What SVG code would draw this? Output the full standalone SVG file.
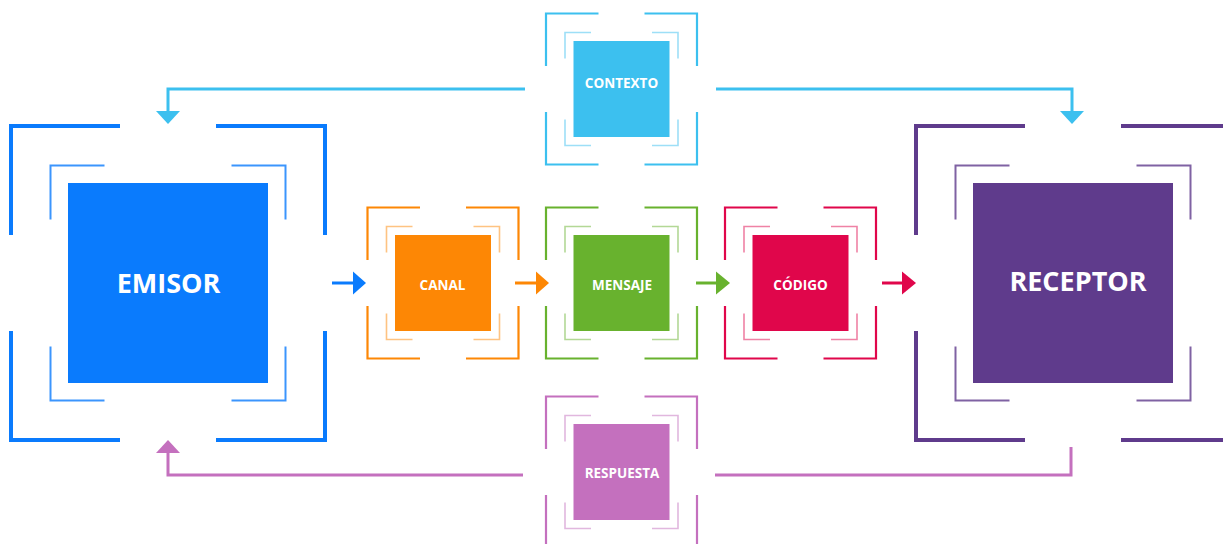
<svg xmlns="http://www.w3.org/2000/svg" width="1223" height="544" viewBox="0 0 1223 544">
<style>
.lbl{font-family:"Open Sans","Liberation Sans",sans-serif;font-weight:700;fill:#ffffff;text-anchor:middle}
.big{font-size:27px}
.small{font-size:13.5px}
.ob{fill:none;stroke-width:4}
.ib{fill:none;stroke-width:2;opacity:0.8}
.os{fill:none;stroke-width:2.2}
.is{fill:none;stroke-width:1.6;opacity:0.5}
.conn{fill:none;stroke-width:3}
</style>
<rect width="1223" height="544" fill="#ffffff"/>
<g id="connectors">
  <g stroke="#3cc0ef" fill="#3cc0ef">
    <path class="conn" d="M525,89 H168 V112"/>
    <polygon points="156,111 180,111 168,124" stroke="none"/>
    <path class="conn" d="M716,89 H1072 V112"/>
    <polygon points="1060,111 1084,111 1072,124" stroke="none"/>
  </g>
  <g stroke="#c470be" fill="#c470be">
    <path class="conn" d="M523,475 H168 V452"/>
    <polygon points="156,453 180,453 168,440" stroke="none"/>
    <path class="conn" d="M715,475 H1071 V447"/>
  </g>
  <g>
    <path class="conn" stroke="#0a7bfd" d="M332,283 H355"/>
    <polygon fill="#0a7bfd" points="353,271.5 366,283 353,294.5"/>
    <path class="conn" stroke="#fd8705" d="M515,283 H538"/>
    <polygon fill="#fd8705" points="536,271.5 549,283 536,294.5"/>
    <path class="conn" stroke="#68b22e" d="M696,283 H718"/>
    <polygon fill="#68b22e" points="716,271.5 730,283 716,294.5"/>
    <path class="conn" stroke="#e0064b" d="M882,283 H904"/>
    <polygon fill="#e0064b" points="902,271.5 916,283 902,294.5"/>
  </g>
</g>
<g id="emisor">
  <path class="ob" stroke="#0a7bfd" d="M11,235 V126 H120 M216,126 H325 V235 M325,331 V440 H216 M120,440 H11 V331"/>
  <path class="ib" stroke="#0a7bfd" d="M50.5,219.5 V165.5 H104.5 M231.5,165.5 H285.5 V219.5 M285.5,346.5 V400.5 H231.5 M104.5,400.5 H50.5 V346.5"/>
  <rect x="68" y="183" width="200" height="200" fill="#0a7bfd"/>
  <text class="lbl big" x="168.5" y="293">EMISOR</text>
</g>
<g id="receptor">
  <path class="ob" stroke="#5f3b8c" d="M916,235 V126 H1025 M1121,126 H1230 V235 M1230,331 V440 H1121 M1025,440 H916 V331"/>
  <path class="ib" stroke="#5f3b8c" d="M955.5,219.5 V165.5 H1009.5 M1136.5,165.5 H1190.5 V219.5 M1190.5,346.5 V400.5 H1136.5 M1009.5,400.5 H955.5 V346.5"/>
  <rect x="973" y="183" width="200" height="200" fill="#5f3b8c"/>
  <text class="lbl big" x="1078" y="291">RECEPTOR</text>
</g>
<g id="contexto">
  <path class="os" stroke="#3cc0ef" d="M546,66 V13.5 H598.5 M644.5,13.5 H697 V66 M697,112 V164.5 H644.5 M598.5,164.5 H546 V112"/>
  <path class="is" stroke="#3cc0ef" d="M565,58.5 V32.5 H591 M652,32.5 H678 V58.5 M678,119.5 V145.5 H652 M591,145.5 H565 V119.5"/>
  <rect x="573.5" y="41" width="96" height="96" fill="#3cc0ef"/>
  <text class="lbl small" x="621.5" y="88">CONTEXTO</text>
</g>
<g id="canal">
  <path class="os" stroke="#fd8705" d="M367.5,260 V207.5 H420 M466,207.5 H518.5 V260 M518.5,306 V358.5 H466 M420,358.5 H367.5 V306"/>
  <path class="is" stroke="#fd8705" d="M386.5,252.5 V226.5 H412.5 M473.5,226.5 H499.5 V252.5 M499.5,313.5 V339.5 H473.5 M412.5,339.5 H386.5 V313.5"/>
  <rect x="395" y="235" width="96" height="96" fill="#fd8705"/>
  <text class="lbl small" x="442.5" y="290">CANAL</text>
</g>
<g id="mensaje">
  <path class="os" stroke="#68b22e" d="M546,260 V207.5 H598.5 M644.5,207.5 H697 V260 M697,306 V358.5 H644.5 M598.5,358.5 H546 V306"/>
  <path class="is" stroke="#68b22e" d="M565,252.5 V226.5 H591 M652,226.5 H678 V252.5 M678,313.5 V339.5 H652 M591,339.5 H565 V313.5"/>
  <rect x="573.5" y="235" width="96" height="96" fill="#68b22e"/>
  <text class="lbl small" x="622" y="290">MENSAJE</text>
</g>
<g id="codigo">
  <path class="os" stroke="#e0064b" d="M725,260 V207.5 H777.5 M823.5,207.5 H876 V260 M876,306 V358.5 H823.5 M777.5,358.5 H725 V306"/>
  <path class="is" stroke="#e0064b" d="M744,252.5 V226.5 H770 M831,226.5 H857 V252.5 M857,313.5 V339.5 H831 M770,339.5 H744 V313.5"/>
  <rect x="752.5" y="235" width="96" height="96" fill="#e0064b"/>
  <text class="lbl small" x="800.5" y="290">CÓDIGO</text>
</g>
<g id="respuesta">
  <path class="os" stroke="#c470be" d="M546,449 V396.5 H598.5 M644.5,396.5 H697 V449 M697,495 V547.5 H644.5 M598.5,547.5 H546 V495"/>
  <path class="is" stroke="#c470be" d="M565,441.5 V415.5 H591 M652,415.5 H678 V441.5 M678,502.5 V528.5 H652 M591,528.5 H565 V502.5"/>
  <rect x="573.5" y="424" width="96" height="96" fill="#c470be"/>
  <text class="lbl small" x="622" y="477.5">RESPUESTA</text>
</g>
</svg>
